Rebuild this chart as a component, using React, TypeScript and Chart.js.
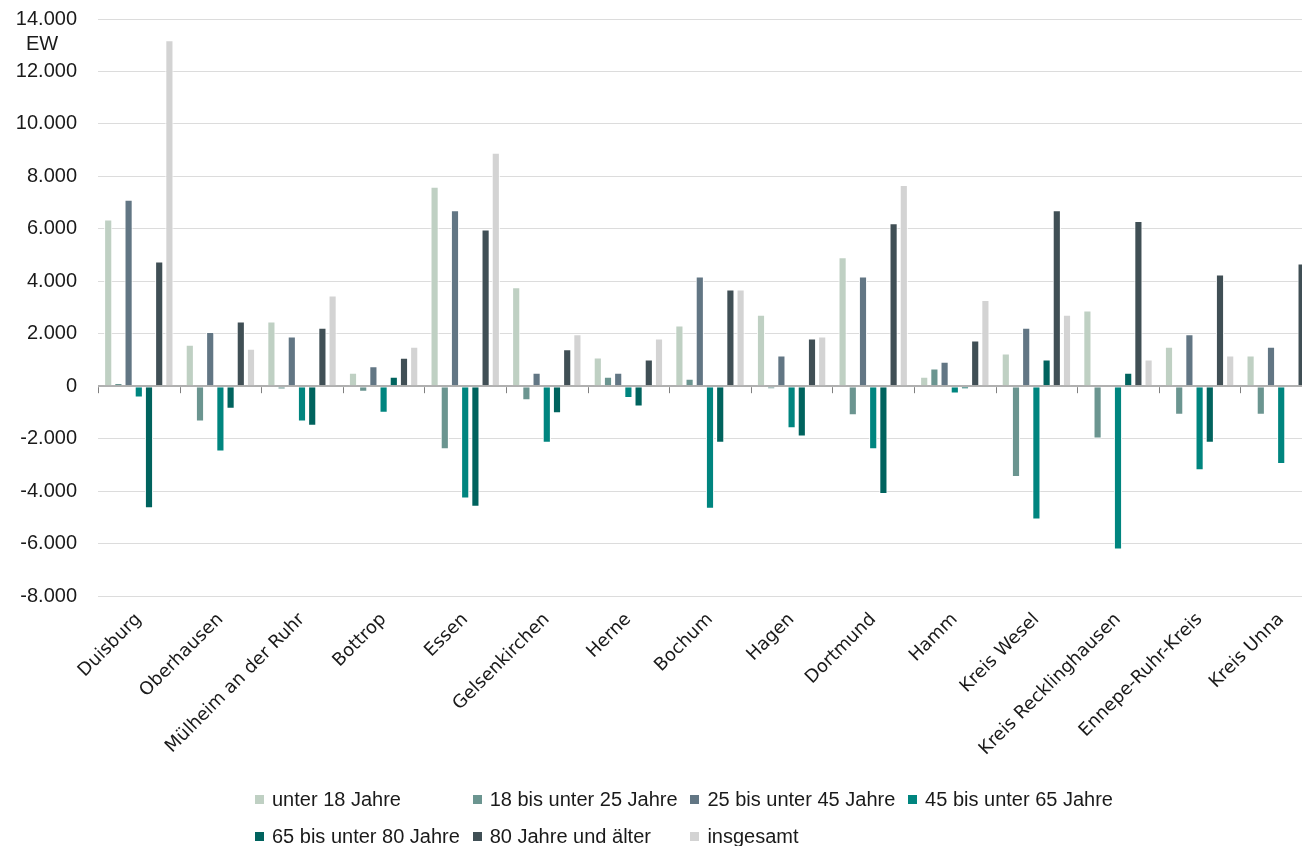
import React, { useEffect, useRef } from "react";
import { Chart, registerables } from "chart.js";

Chart.register(...registerables);

const categories = [
  "Duisburg",
  "Oberhausen",
  "Mülheim an der Ruhr",
  "Bottrop",
  "Essen",
  "Gelsenkirchen",
  "Herne",
  "Bochum",
  "Hagen",
  "Dortmund",
  "Hamm",
  "Kreis Wesel",
  "Kreis Recklinghausen",
  "Ennepe-Ruhr-Kreis",
  "Kreis Unna",
];

const seriesNames = [
  "unter 18 Jahre",
  "18 bis unter 25 Jahre",
  "25 bis unter 45 Jahre",
  "45 bis unter 65 Jahre",
  "65 bis unter 80 Jahre",
  "80 Jahre und älter",
  "insgesamt",
];

const seriesColors = ["#bfd0c3", "#6b9590", "#627684", "#00857f", "#00635e", "#404f55", "#d3d3d3"];

const unter18 = [6360, 1580, 2470, 510, 7600, 3770, 1095, 2315, 2720, 4915, 360, 1245, 2885, 1500, 1170];
const u18bis25 = [120, -1345, -125, -215, -2400, -535, 360, 280, -115, -1105, 675, -3465, -1995, -1090, -1090];
const u25bis45 = [7110, 2070, 1895, 760, 6705, 510, 510, 4180, 1170, 4180, 930, 2225, 0, 1980, 1500];
const u45bis65 = [-430, -2490, -1345, -1015, -4280, -2155, -455, -4670, -1600, -2400, -280, -5080, -6225, -3210, -2970];
const u65bis80 = [-4650, -860, -1510, 360, -4595, -1030, -775, -2155, -1915, -4115, -115, 1015, 510, -2155, 0];
const ab80 = [4750, 2465, 2225, 1080, 5970, 1410, 1015, 3685, 1815, 6210, 1740, 6705, 6300, 4255, 4675];
const insgesamt = [13190, 1425, 3455, 1500, 8905, 1980, 1815, 3685, 1895, 7675, 3290, 2720, 1015, 1170, 3290];

const seriesValues = [unter18, u18bis25, u25bis45, u45bis65, u65bis80, ab80, insgesamt];

const yMin = -8000;
const yMax = 14000;
const yStep = 2000;

const formatDe = (v: number) => {
  const s = Math.abs(v).toString().replace(/\B(?=(\d{3})+(?!\d))/g, ".");
  return (v < 0 ? "-" : "") + s;
};

const extrasPlugin = {
  id: "extras",
  afterDraw(chart: any) {
    const { ctx, scales } = chart;
    const x = scales.x;
    const y = scales.y;
    const y0 = y.getPixelForValue(0);
    const n = categories.length;
    const w = (x.right - x.left) / n;
    ctx.save();
    ctx.strokeStyle = "#7f7f7f";
    ctx.lineWidth = 1;
    for (let i = 0; i <= n; i++) {
      const px = Math.round(x.left + i * w) + 0.5;
      ctx.beginPath();
      ctx.moveTo(px, y0 + 1);
      ctx.lineTo(px, y0 + 7);
      ctx.stroke();
    }
    ctx.fillStyle = "#1a1a1a";
    ctx.font = '20px "Liberation Sans", Arial, sans-serif';
    ctx.textAlign = "center";
    ctx.textBaseline = "alphabetic";
    ctx.fillText("EW", y.right - 56, y.getPixelForValue(yMax) + 31);
    ctx.restore();
  },
};

export default function App() {
  const ref = useRef<HTMLCanvasElement | null>(null);

  useEffect(() => {
    if (!ref.current) return;
    const chart = new Chart(ref.current, {
      type: "bar",
      data: {
        labels: categories,
        datasets: seriesNames.map((name, i) => ({
          label: name,
          data: seriesValues[i],
          backgroundColor: seriesColors[i],
          borderColor: "#ffffff",
          borderWidth: 1,
          borderSkipped: "start",
          categoryPercentage: 0.875,
          barPercentage: 0.8,
        })),
      },
      options: {
        responsive: false,
        animation: false,
        layout: { padding: { top: 11, right: 26, left: 0, bottom: 0 } },
        plugins: {
          legend: { display: false },
          tooltip: { enabled: false },
          title: { display: false },
        },
        scales: {
          x: {
            grid: { display: false },
            border: { display: false },
            ticks: {
              autoSkip: false,
              maxRotation: 45,
              minRotation: 45,
              padding: 5,
              color: "#1a1a1a",
              font: { family: '"DejaVu Sans", sans-serif', size: 18 },
            },
            afterFit(scale: any) {
              scale.height = 250;
            },
          },
          y: {
            min: yMin,
            max: yMax,
            border: { display: false },
            grid: {
              drawTicks: false,
              color: (c: any) => (c.tick && c.tick.value === 0 ? "#b0b0b0" : "#dcdcdc"),
              lineWidth: (c: any) => (c.tick && c.tick.value === 0 ? 2 : 1),
            },
            ticks: {
              stepSize: yStep,
              padding: 21,
              color: "#1a1a1a",
              font: { family: '"Liberation Sans", Arial, sans-serif', size: 20, lineHeight: 1 },
              callback: (v: any) => formatDe(Number(v)),
            },
            afterFit(scale: any) {
              scale.width = 90;
              scale.paddingTop = 0;
              scale.paddingBottom = 0;
            },
          },
        },
      },
      plugins: [extrasPlugin],
    });
    return () => chart.destroy();
  }, []);

  const colLeft = 247;
  const colStep = 217.7;
  const rowTops = [781, 818];
  const legendItems = seriesNames.map((name, i) => ({
    name,
    color: seriesColors[i],
    left: colLeft + (i < 4 ? i : i - 4) * colStep,
    top: i < 4 ? rowTops[0] : rowTops[1],
  }));

  return (
    <div style={{ position: "relative", width: 1302, height: 838, overflow: "hidden", background: "#fff" }}>
      <canvas ref={ref} width={1340} height={838} style={{ position: "absolute", left: 0, top: 0, width: 1340, height: 838 }} />
      {legendItems.map((it) => (
        <div
          key={it.name}
          style={{
            position: "absolute",
            left: it.left,
            top: it.top,
            height: 20,
            display: "flex",
            alignItems: "center",
            whiteSpace: "nowrap",
            fontFamily: '"Liberation Sans", Arial, sans-serif',
            fontSize: 20,
            lineHeight: "20px",
            color: "#1a1a1a",
          }}
        >
          <span style={{ display: "inline-block", width: 9, height: 9, background: it.color, marginRight: 8 }} />
          <span>{it.name}</span>
        </div>
      ))}
    </div>
  );
}
